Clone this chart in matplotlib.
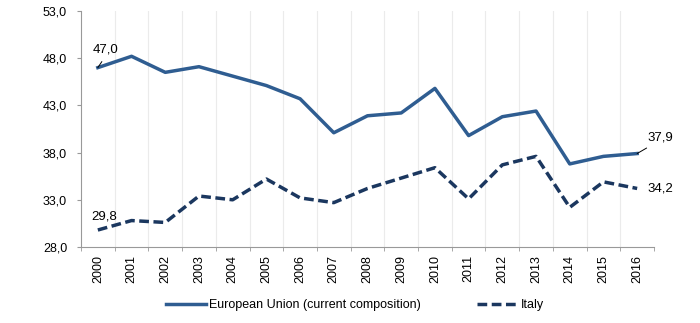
import numpy as np
import matplotlib
matplotlib.use("Agg")
import matplotlib.pyplot as plt
from matplotlib.ticker import FixedLocator, FuncFormatter

plt.rcParams.update({"font.family": ["Liberation Sans", "DejaVu Sans"], "font.size": 9})

years = [str(y) for y in range(2000, 2017)]
eu = [47.0, 48.2, 46.5, 47.1, 46.1, 45.1, 43.7, 40.1, 41.9, 42.2, 44.8,
      39.8, 41.8, 42.4, 36.8, 37.6, 37.9]
italy = [29.8, 30.8, 30.6, 33.4, 33.0, 35.2, 33.2, 32.7, 34.2, 35.3, 36.4,
         33.1, 36.7, 37.6, 32.2, 34.9, 34.2]

C_EU, C_IT = "#2F5D91", "#1B375F"

fig = plt.figure(figsize=(7.0, 3.23), dpi=100)
ax = fig.add_axes([0.1157, 0.2353, 0.8186, 0.7307])
x = np.arange(len(years))

ax.plot(x, eu, color=C_EU, lw=2.5, label="European Union (current composition)")
ax.plot(x, italy, color=C_IT, lw=2.5, ls=(0, (2.8, 1.3)), label="Italy")

ax.set_xlim(-0.5, len(years) - 0.5)
ax.set_ylim(28, 53)
ax.set_yticks(np.arange(28, 54, 5))
ax.yaxis.set_major_formatter(FuncFormatter(lambda v, p: f"{v:.1f}".replace(".", ",")))

ax.set_xticks(x)
ax.set_xticklabels(years, rotation=90)
ax.tick_params(axis="x", which="major", length=0, pad=5.5)
ax.xaxis.set_minor_locator(FixedLocator(np.arange(-0.5, len(years), 1)))
ax.tick_params(axis="x", which="minor", length=3, color="#999999")
ax.tick_params(axis="y", length=3, color="#999999", pad=7)
for xb in np.arange(0.5, len(years) - 0.5, 1):
    ax.axvline(xb, color="#EBEBEB", lw=0.8, zorder=0)

for side in ["top", "right"]:
    ax.spines[side].set_visible(False)
for side in ["left", "bottom"]:
    ax.spines[side].set_color("#999999")

fmt = lambda v: f"{v:.1f}".replace(".", ",")
ax.annotate(fmt(eu[0]), xy=(x[0], eu[0]), xytext=(x[0] - 0.14, eu[0] + 1.3),
            fontsize=9.5, ha="left", va="bottom",
            arrowprops=dict(arrowstyle="-", color="black", lw=0.7, shrinkA=3, shrinkB=0,
                            relpos=(0.5, 0)))
ax.annotate(fmt(eu[-1]), xy=(x[-1], eu[-1]), xytext=(x[-1] + 0.3, eu[-1] + 1.1),
            fontsize=9.5, ha="left", va="bottom",
            arrowprops=dict(arrowstyle="-", color="black", lw=0.7, shrinkA=3, shrinkB=0,
                            relpos=(0.3, 0)))
ax.text(x[0] - 0.2, italy[0] + 0.75, fmt(italy[0]), fontsize=9.5, ha="left", va="bottom")
ax.text(x[-1] + 0.32, italy[-1], fmt(italy[-1]), fontsize=9.5, ha="left", va="center")

fig.legend(loc="center", bbox_to_anchor=(0.507, 0.056), ncol=2, frameon=False,
           handlelength=3.2, handletextpad=0.3, columnspacing=4.5, fontsize=9)

fig.savefig("out.png", dpi=100)
